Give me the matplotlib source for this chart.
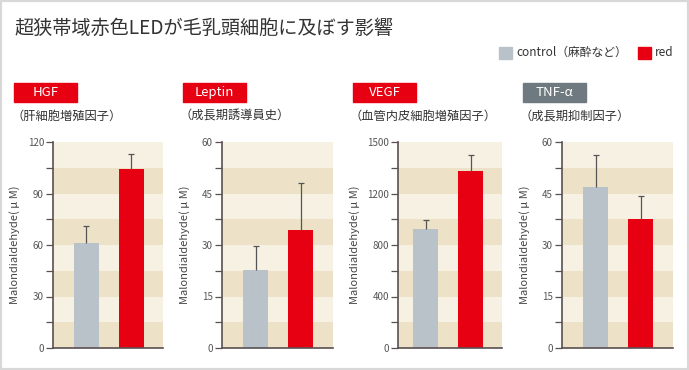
import numpy as np
import matplotlib.pyplot as plt
from matplotlib.patches import Rectangle

plt.rcParams['font.family'] = ['Noto Sans CJK JP', 'DejaVu Sans']

# data
markers = ['HGF', 'Leptin', 'VEGF', 'TNF-α']
subtitles = ['（肝細胞増殖因子）', '（成長期誘導員史）', '（血管内皮細胞増殖因子）', '（成長期抑制因子）']
control_vals = [61.2, 22.7, 924, 47.0]
control_err = [9.6, 6.9, 70, 9.2]
red_vals = [104.3, 34.5, 1378, 37.6]
red_err = [8.8, 13.6, 119, 6.7]
ymax = [120, 60, 1600, 60]
yticks = [[0, 30, 60, 90, 120], [0, 15, 30, 45, 60], [0, 400, 800, 1200, 1600], [0, 15, 30, 45, 60]]
ytick_labels = [['0', '30', '60', '90', '120'], ['0', '15', '30', '45', '60'],
                ['0', '400', '800', '1200', '1500'], ['0', '15', '30', '45', '60']]

W, H = 689, 370
fig = plt.figure(figsize=(W / 100, H / 100), dpi=100)
fig.patch.set_facecolor('white')

def fx(px):
    return px / W

def fy(py):
    return 1 - py / H

# outer frame
fig.patches.append(Rectangle((0, 0), 1, 1, transform=fig.transFigure,
                             fill=False, edgecolor='#d8d8d8', linewidth=3))

fig.text(fx(14), fy(28), '超狭帯域赤色LEDが毛乳頭細胞に及ぼす影響', fontsize=13.8,
         color='#333333', va='center', ha='left')

# legend
gray = '#b9c2c9'
red = '#e60012'
fig.patches.append(Rectangle((fx(499), fy(59)), fx(13), 12 / H, transform=fig.transFigure,
                             color=gray))
fig.text(fx(516), fy(52), 'control（麻酔など）', fontsize=8.5, color='#333333', va='center')
fig.patches.append(Rectangle((fx(638), fy(59)), fx(13), 12 / H, transform=fig.transFigure,
                             color=red))
fig.text(fx(655), fy(52), 'red', fontsize=8.5, color='#333333', va='center')

# panel geometry in pixels
lefts = [53, 222, 398, 562]
rights = [163, 333, 502, 673]
gray_centres = [86, 255.5, 425.5, 595.5]
box_lefts = [14, 183, 353, 523]
box_colors = [red, red, red, '#6e7a80']
ylabel_x = [20, 190, 360, 530]
top, bottom = 142, 348
spacing = 45.0

light_band = '#f6f1e2'
dark_band = '#ede2c7'

for i in range(4):
    # label box and subtitle
    fig.patches.append(Rectangle((fx(box_lefts[i]), fy(102)), fx(63), 19 / H,
                                 transform=fig.transFigure, color=box_colors[i]))
    fig.text(fx(box_lefts[i] + 31.5), fy(92.5), markers[i], fontsize=9.5, color='white',
             ha='center', va='center')
    fig.text(fx(box_lefts[i] - 3), fy(116), subtitles[i], fontsize=8.8, color='#333333',
             ha='left', va='center')

    ax = fig.add_axes([fx(lefts[i]), fy(bottom), fx(rights[i] - lefts[i]), (bottom - top) / H])
    x0 = -(gray_centres[i] - lefts[i]) / spacing
    x1 = (rights[i] - gray_centres[i]) / spacing
    ax.set_xlim(x0, x1)
    ax.set_ylim(0, ymax[i])

    step = ymax[i] / 8
    for k in range(8):
        ax.axhspan(k * step, (k + 1) * step, color=dark_band if k % 2 == 0 else light_band,
                   linewidth=0, zorder=0)

    ax.bar([0, 1], [control_vals[i], red_vals[i]], width=25 / spacing,
           color=[gray, red], zorder=2)
    eb = ax.errorbar([0, 1], [control_vals[i], red_vals[i]],
                     yerr=[[0, 0], [control_err[i], red_err[i]]], fmt='none',
                     ecolor='#555555', elinewidth=0.9, capsize=2.5, capthick=0.9, zorder=3)
    # only the upper cap is drawn in the original
    eb[1][0].set_visible(False)

    ax.set_yticks(yticks[i])
    ax.set_yticklabels(ytick_labels[i])
    ax.set_yticks([yticks[i][j] + (yticks[i][1] - yticks[i][0]) / 2 for j in range(4)], minor=True)
    ax.tick_params(axis='y', which='both', direction='out', length=5, width=0.9,
                   color='#5a5050', labelsize=7, labelcolor='#555555', pad=1.5)
    ax.set_xticks([])
    for s in ['top', 'right']:
        ax.spines[s].set_visible(False)
    for s in ['left', 'bottom']:
        ax.spines[s].set_color('#5a5050')
        ax.spines[s].set_linewidth(1.2)

    ax.set_ylabel('Malondialdehyde( μ M)', fontsize=8, color='#444444')
    ax.yaxis.set_label_coords((ylabel_x[i] - lefts[i]) / (rights[i] - lefts[i]), 0.5)

fig.savefig('out.png', dpi=100)
